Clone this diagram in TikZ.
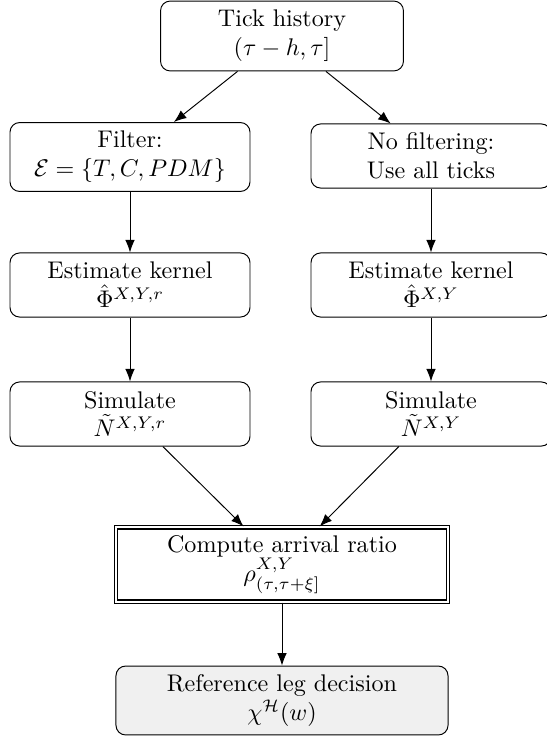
\documentclass[tikz,border=0pt]{standalone}
\usetikzlibrary{arrows.meta}
\begin{document}
\begin{tikzpicture}[x=0.415pt,y=-0.415pt,
  box/.style={draw, rounded corners=4pt, align=center, inner sep=2pt,
    minimum width=99.6pt, minimum height=26.6pt},
  widebox/.style={draw, align=center, inner sep=2pt,
    minimum width=137.8pt},
  arr/.style={-{Latex[length=5.2pt,width=4pt]}}]
\useasboundingbox (0,0) rectangle (547,740);
\node[box, minimum width=100.8pt, minimum height=29pt] (tick) at (282,36) {Tick history\\$(\tau-h,\tau]$};
\node[box, minimum height=28.6pt] (filt) at (130,157) {Filter:\\$\mathcal{E}=\{T,C,PDM\}$};
\node[box] (nofilt) at (431,156) {No filtering:\\Use all ticks};
\node[box] (estL) at (130,285) {Estimate kernel\\$\hat{\Phi}^{X,Y,r}$};
\node[box] (estR) at (431,285) {Estimate kernel\\$\hat{\Phi}^{X,Y}$};
\node[box] (simL) at (130,414) {Simulate\\$\tilde{N}^{X,Y,r}$};
\node[box] (simR) at (431,414) {Simulate\\$\tilde{N}^{X,Y}$};
\node[widebox, double, line width=0.6pt, double distance=0.8pt, minimum height=31pt] (comp) at (282,564.5) {Compute arrival ratio\\$\rho^{X,Y}_{(\tau,\tau+\xi]}$};
\node[widebox, rounded corners=4pt, fill=black!6, minimum height=28.6pt] (ref) at (282,700.5) {Reference leg decision\\$\chi^{\mathcal{H}}(w)$};
\draw[arr] (tick) -- (filt);
\draw[arr] (tick) -- (nofilt);
\draw[arr] (filt) -- (estL);
\draw[arr] (nofilt) -- (estR);
\draw[arr] (estL) -- (simL);
\draw[arr] (estR) -- (simR);
\draw[arr] (simL) -- (comp);
\draw[arr] (simR) -- (comp);
\draw[arr] (comp) -- (ref);
\end{tikzpicture}
\end{document}
